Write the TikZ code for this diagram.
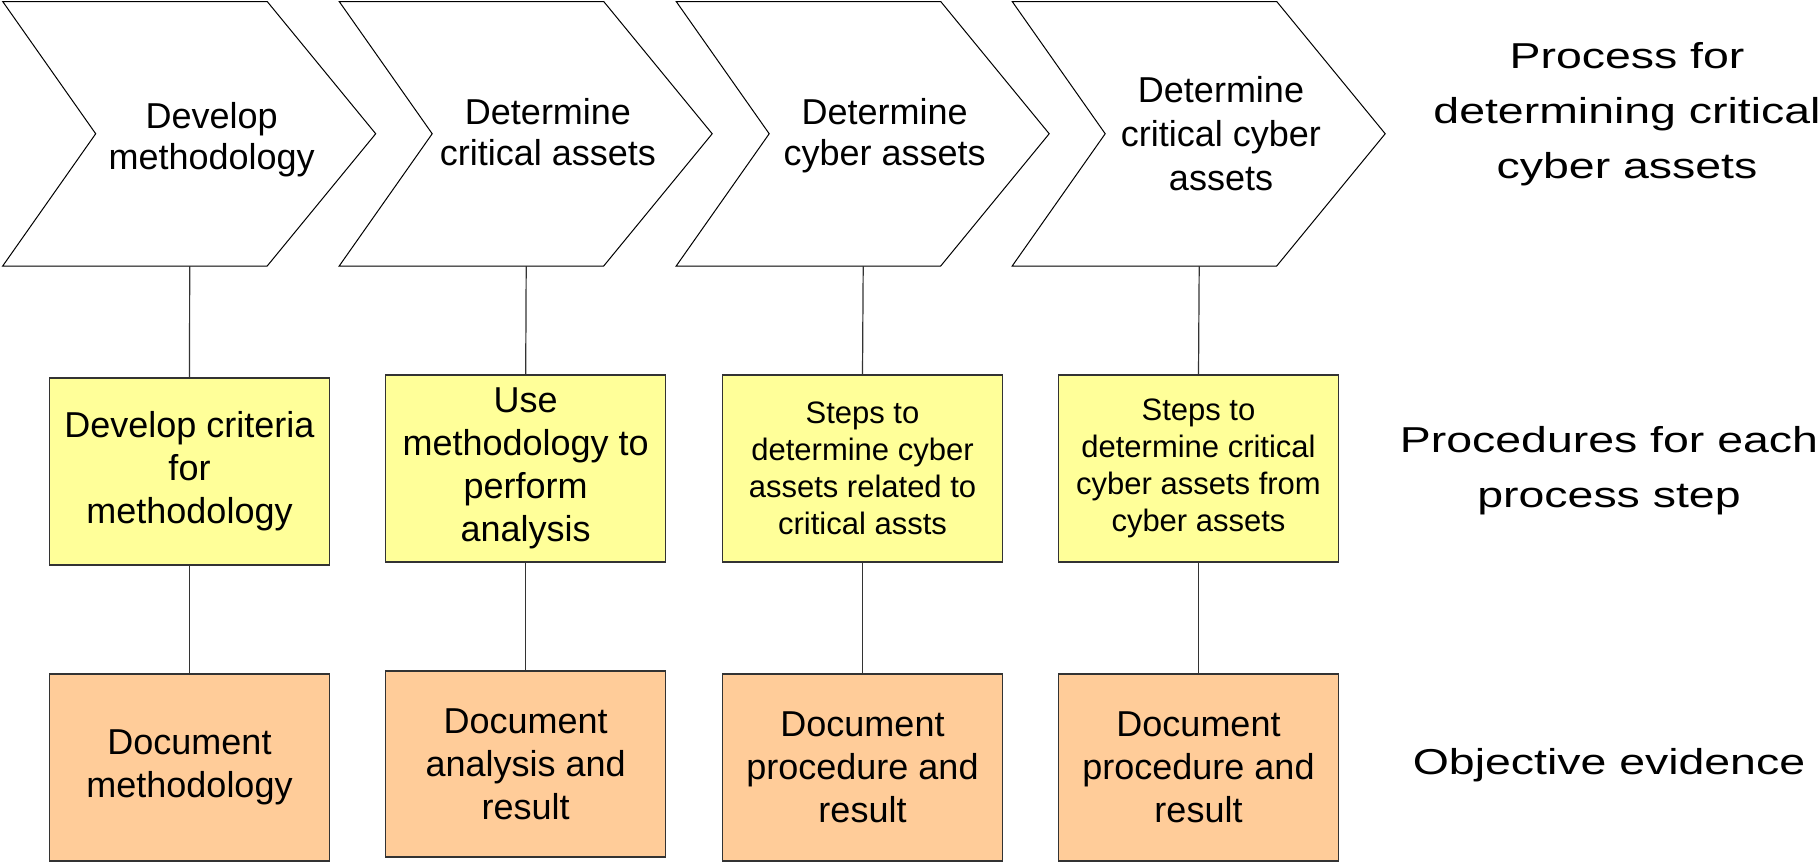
\documentclass[tikz,border=0pt]{standalone}
\usepackage{fontspec}
\setmainfont{Liberation Sans}
\newfontfamily\widesans{Liberation Sans}[FakeStretch=1.29]
\usetikzlibrary{calc}
\definecolor{stepyellow}{HTML}{FFFF99}
\definecolor{evidorange}{HTML}{FFCC99}
\definecolor{edgegray}{HTML}{333333}
% invisible strut fixing the height of a first text line
\newcommand\tstrut{\rule{0pt}{0.8em}}

\begin{document}
\begin{tikzpicture}[x=0.5pt,y=-0.5pt,
  chev/.style={draw=black, line width=0.5pt, fill=white, line join=miter},
  chevtext/.style={anchor=north, inner sep=0pt, align=center,
    font=\fontsize{18pt}{20.5pt}\selectfont},
  procbox/.style={draw=edgegray, line width=0.6pt, fill=stepyellow,
    minimum width=140pt, minimum height=93.5pt, inner sep=0pt, align=center,
    font=\fontsize{18pt}{21.5pt}\selectfont},
  smalltext/.style={font=\fontsize{15.5pt}{18.5pt}\selectfont},
  evidbox/.style={procbox, fill=evidorange},
  link/.style={draw=edgegray, line width=0.6pt},
  rowlabel/.style={align=center, inner sep=0pt,
    font=\widesans\fontsize{18pt}{27.5pt}\selectfont}]

\useasboundingbox (0,0) rectangle (1820,862);

% process chevrons
\foreach \i/\L in {1/2.7, 2/339.2, 3/676.2, 4/1012.2} {
  \coordinate (ctl\i) at (\L,1.5);
  \draw[chev] (ctl\i) -- ++(264.5,0) -- ++(108.5,132.25) -- ++(-108.5,132.25)
    -- ++(-264.5,0) -- ++(93,-132.25) -- cycle;
  \coordinate (cfoot\i) at (\L+187,266);
}

\node[chevtext] (ct1) at (211.7,99.2) {\tstrut Develop\\methodology};
\node[chevtext] (ct2) at (548,95.2) {\tstrut Determine\\critical assets};
\node[chevtext] (ct3) at (884.7,95.2) {\tstrut Determine\\cyber assets};
\node[chevtext, font=\fontsize{18pt}{22pt}\selectfont] (ct4) at (1221,72.9)
  {\tstrut Determine\\critical cyber\\assets};

% procedures
\node[procbox] (p1) at (189.5,471.5) {Develop criteria\\for\\methodology};
\node[procbox] (p2) at (525.7,468.5) {Use\\methodology to\\perform\\analysis};
\node[procbox, smalltext] (p3) at (862.5,468.5) {Steps to\\determine cyber\\assets related to\\critical assts};
\node[procbox, smalltext] (p4) at (1198.5,468.5) {Steps to\\determine critical\\cyber assets from\\cyber assets};

% objective evidence
\node[evidbox] (e1) at (189.5,767.5) {Document\\methodology};
\node[evidbox, minimum height=93pt] (e2) at (525.7,764) {Document\\analysis and\\result};
\node[evidbox] (e3) at (862.5,767.5) {Document\\procedure and\\result};
\node[evidbox] (e4) at (1198.5,767.5) {Document\\procedure and\\result};

% connectors
\foreach \i in {1,2,3,4} {
  \draw[link] (cfoot\i) -- (p\i.north);
  \draw[link] (p\i.south) -- (e\i.north);
}

% row labels
\node[rowlabel] (lab1) at (1627,114) {Process for\\determining critical\\cyber assets};
\node[rowlabel] (lab2) at (1609,471) {Procedures for each\\process step};
\node[rowlabel] (lab3) at (1609,765) {Objective evidence};
\end{tikzpicture}
\end{document}
